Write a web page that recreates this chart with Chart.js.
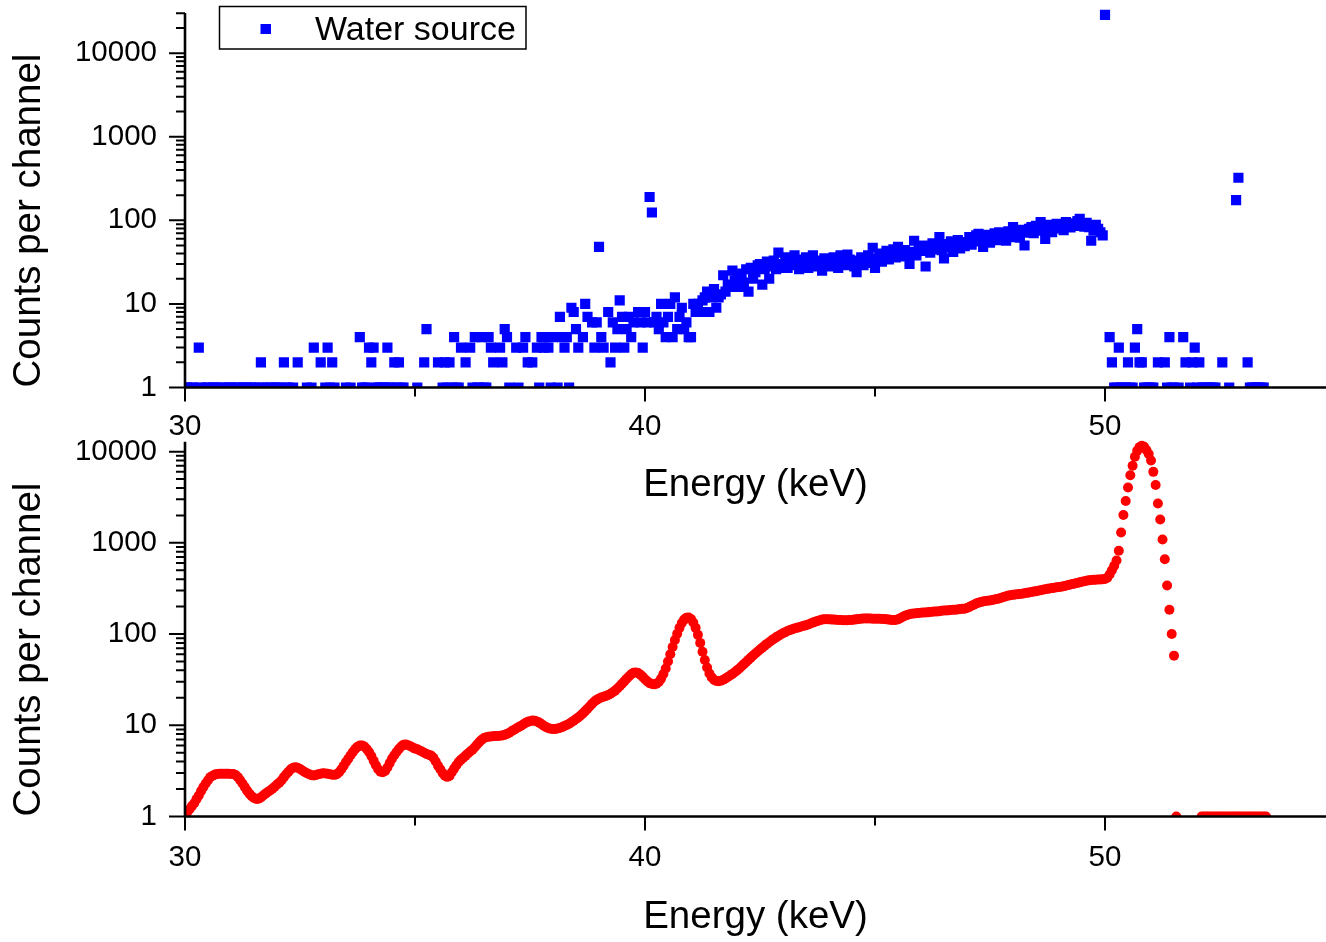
<!DOCTYPE html>
<html>
<head>
<meta charset="utf-8">
<title>Energy spectra</title>
<script src="https://cdn.jsdelivr.net/npm/chart.js@4.4.0/dist/chart.umd.min.js"></script>
<style>
  html, body { margin: 0; padding: 0; background: #ffffff; }
  #wrap { position: relative; width: 1326px; height: 942px; overflow: hidden; }
  canvas { position: absolute; left: 0; }
  #lower { top: 420px; }
  #upper { top: 0; }
</style>
</head>
<body>
<div id="wrap">
  <canvas id="lower" width="1326" height="522"></canvas>
  <canvas id="upper" width="1326" height="510"></canvas>
</div>
<script>
// Channel calibration shared by both spectra (keV)
const channelStart = 30.0;
const channelWidth = 0.05;

// Measured water-source spectrum, counts per channel, one row per keV (30.00 ... 30.95, 31.00 ...)
const waterCounts = [
  1,1,0,1,1,0,3,1,0,1,1,0,1,1,1,0,1,0,1,1,            // 30
  1,0,1,1,0,1,1,1,0,1,1,0,1,2,1,0,1,1,0,1,            // 31
  1,1,0,2,1,1,0,1,0,2,0,0,0,1,0,1,3,0,0,2,            // 32
  0,1,3,1,2,1,0,0,0,0,1,0,1,0,0,0,4,1,1,1,            // 33
  3,2,3,1,1,1,1,1,3,1,1,2,1,2,1,1,0,0,0,0,            // 34
  0,1,0,0,2,5,0,0,0,0,2,0,1,2,1,2,1,4,1,1,            // 35
  3,0,2,0,3,1,4,1,1,4,1,1,4,3,2,0,0,3,2,5,            // 36
  4,1,0,0,3,1,0,3,4,2,0,2,0,3,1,4,3,4,3,1,            // 37
  4,0,1,7,4,3,4,1,9,8,5,3,0,4,10,7,0,6,3,6,           // 38
  48,4,3,0,8,2,6,3,5,11,7,3,5,7,4,6,0,8,6,3,          // 39
  8,6,190,124,6,7,5,10,6,4,7,10,4,12,5,7,9,5,6,4,     // 40
  4,10,8,10,8,11,12,14,8,12,15,9,12,13,22,14,17,16,25,19,   // 41
  22,16,23,18,26,14,27,20,24,29,30,17,26,32,20,28,33,26,41,27, // 42
  30,36,27,33,29,38,31,26,34,29,36,27,32,38,28,33,30,25,35,30, // 43
  33,28,36,31,27,38,32,29,39,34,30,28,24,33,36,29,34,38,31,47, // 44
  27,35,40,32,37,43,34,39,45,36,48,41,37,44,39,30,42,57,38,46, // 45
  43,50,28,46,41,53,45,49,63,44,35,52,47,56,42,50,58,46,53,49, // 46
  55,63,51,58,66,69,56,48,61,67,54,62,70,58,72,60,66,57,74,63, // 47
  83,68,74,62,77,50,71,79,83,70,86,75,95,81,60,78,88,72,84,91, // 48
  80,87,76,95,89,82,92,86,98,104,90,84,93,83,57,75,88,79,72,66, // 49
  28700,0,4,2,1,1,3,1,1,1,2,1,1,3,5,2,2,1,1,1,        // 50
  1,1,0,2,0,0,2,1,4,1,1,0,1,0,4,2,0,1,2,3,            // 51
  1,2,1,1,1,1,1,1,1,0,0,2,0,0,1,0,0,174,323,0,        // 52
  0,0,2,1,1,1,1,1,1,1                                 // 53
];

// Calculated spectrum, counts per channel on the same channel grid
const calculatedCounts = [
  1.05,1.12,1.2,1.3,1.4,1.55,1.7,1.9,2.1,2.3,2.5,2.7,2.8,2.88,2.92,2.94,2.95,2.95,2.94,2.94,          // 30
  2.93,2.92,2.85,2.7,2.5,2.3,2.1,1.92,1.78,1.67,1.6,1.56,1.57,1.62,1.7,1.78,1.86,1.93,2.02,2.12,       // 31
  2.24,2.35,2.5,2.7,2.9,3.1,3.3,3.42,3.47,3.42,3.32,3.2,3.08,2.98,2.9,2.84,2.82,2.85,2.9,2.95,         // 32
  2.98,2.97,2.94,2.9,2.87,2.86,2.9,3.05,3.3,3.6,3.95,4.3,4.7,5.1,5.5,5.8,6.0,6.0,5.85,5.5,             // 33
  5.1,4.6,4.1,3.65,3.3,3.1,3.05,3.15,3.45,3.85,4.3,4.7,5.1,5.5,5.85,6.1,6.15,6.05,5.9,5.7,             // 34
  5.55,5.45,5.3,5.15,5.0,4.85,4.75,4.65,4.4,4.0,3.6,3.3,3.0,2.8,2.72,2.78,3.05,3.35,3.65,3.95,         // 35
  4.2,4.4,4.65,4.9,5.15,5.4,5.75,6.15,6.55,6.95,7.25,7.4,7.5,7.55,7.6,7.62,7.65,7.7,7.75,7.85,         // 36
  8.05,8.3,8.6,8.9,9.2,9.5,9.85,10.2,10.6,10.9,11.1,11.25,11.2,11.0,10.7,10.3,9.9,9.55,9.3,9.15,       // 37
  9.1,9.1,9.2,9.35,9.55,9.8,10.1,10.4,10.8,11.2,11.7,12.2,12.8,13.5,14.3,15.2,16.2,17.2,18.2,19.0,     // 38
  19.7,20.2,20.6,21.0,21.5,22.2,23.0,24.0,25.3,26.8,28.5,30.3,32.3,34.3,36.2,37.6,38.0,37.4,35.9,34.0, // 39
  32.0,30.3,29.0,28.3,28.1,28.5,29.8,32.5,36.5,42,50,60,72,86,101,117,132,144,151,152,                 // 40
  146,134,117,98,80,64,52,43,37,33.5,31.5,30.6,30.4,30.8,31.5,32.6,33.9,35.2,36.6,38.2,                // 41
  40.0,42.0,44.3,46.8,49.5,52.3,55.2,58.2,61.3,64.5,67.7,71,74.5,78,81.5,85,88.5,92,95.5,99,           // 42
  102,105,108,110.5,113,115,117,119,121,123,125,127.5,130.5,133.5,136.5,139.5,142,144,145.5,145.5,     // 43
  145,144.5,144,143.5,143,142.5,142,142,142,142.5,143,144,145,146,147,148,148.5,148.5,148,147.5,       // 44
  147,147,147,146.5,146,145,144,143,142.5,143,145,149,154,159,162,165,167,168,169,170,                 // 45
  171,172,172,173,175,176,177,177,178,180,181,181,182,184,185,185,186,188,189,190,                     // 46
  193,198,204,210,216,221,225,228,230,232,234,236,239,242,246,250,255,260,264,267,                     // 47
  269,271,273,275,277,280,283,286,289,292,295,298,302,306,310,313,316,319,322,325,                     // 48
  328,331,335,339,344,349,354,359,364,369,374,379,384,388,391,393,395,396,397,399,                     // 49
  402,415,450,500,560,640,820,1300,2020,2870,4050,5500,7000,8800,10200,11200,11600,11300,10400,9400,   // 50
  8000,6000,4300,2700,1800,1090,660,340,185,100,58,1,0,0,0,0,0,0,0,0,                                  // 51
  0,0,1,1,1,1,1,1,1,1,1,1,1,1,1,1,1,1,1,1,                                                             // 52
  1,1,1,1,1,1,1,1,1,1,1                                                                                // 53
];

// Axis ticks and ranges
const xTickValues = [30, 40, 50];
const xMinorTickValues = [35, 45];
const yTickValues = [1, 10, 100, 1000, 10000];
const xRange = [30, 54.804];
const upperYRange = [1, 30200];
const lowerYRange = [1, 12850];

const FONT = "'Liberation Sans', Arial, Helvetica, sans-serif";
Chart.defaults.color = '#000000';
Chart.defaults.font.family = FONT;

// Zero-count channels cannot be placed on a log axis, so they are left out
function toPoints(counts) {
  const pts = [];
  counts.forEach((c, i) => {
    if (c > 0) pts.push({ x: channelStart + i * channelWidth, y: c });
  });
  return pts;
}

// Axis lines with major and minor tick marks pointing outwards
const axisFrame = {
  id: 'axisFrame',
  afterDatasetsDraw(chart) {
    const { ctx, chartArea: a, scales: { x, y } } = chart;
    ctx.save();
    ctx.strokeStyle = '#000000';
    ctx.lineWidth = 2.6;
    ctx.beginPath();
    ctx.moveTo(a.left, a.top);
    ctx.lineTo(a.left, a.bottom);
    ctx.moveTo(a.left - 1.3, a.bottom);
    ctx.lineTo(a.right, a.bottom);
    ctx.stroke();

    ctx.lineWidth = 2;
    ctx.beginPath();
    xTickValues.forEach(v => {
      const px = x.getPixelForValue(v);
      ctx.moveTo(px, a.bottom);
      ctx.lineTo(px, a.bottom + 14);
    });
    xMinorTickValues.forEach(v => {
      const px = x.getPixelForValue(v);
      ctx.moveTo(px, a.bottom);
      ctx.lineTo(px, a.bottom + 9);
    });
    yTickValues.forEach(d => {
      for (let m = 1; m <= 9; m++) {
        const v = d * m;
        if (v > y.max) break;
        const py = y.getPixelForValue(v);
        ctx.moveTo(a.left, py);
        ctx.lineTo(a.left - (m === 1 ? 16 : 9), py);
      }
    });
    ctx.stroke();
    ctx.restore();
  }
};

// Boxed legend in the upper left corner of the plot
const boxedLegend = {
  id: 'boxedLegend',
  afterDraw(chart) {
    const { ctx } = chart;
    const ds = chart.data.datasets[0];
    ctx.save();
    ctx.fillStyle = '#ffffff';
    ctx.fillRect(219.5, 6.5, 306.5, 42.5);
    ctx.strokeStyle = '#000000';
    ctx.lineWidth = 1.5;
    ctx.strokeRect(219.5, 6.5, 306.5, 42.5);
    ctx.fillStyle = ds.backgroundColor;
    ctx.fillRect(260.5, 24, 10.5, 10);
    ctx.fillStyle = '#000000';
    ctx.font = '34px ' + FONT;
    ctx.textBaseline = 'alphabetic';
    ctx.textAlign = 'left';
    ctx.fillText(ds.label, 315, 40);
    ctx.restore();
  }
};

function spectrumOptions(cfg) {
  return {
    responsive: false,
    animation: false,
    events: [],
    layout: { autoPadding: false, padding: { left: 0, right: 0, top: cfg.top, bottom: 0 } },
    plugins: { legend: { display: false }, tooltip: { enabled: false } },
    scales: {
      x: {
        type: 'linear',
        position: 'bottom',
        min: xRange[0],
        max: xRange[1],
        grid: { display: false, drawTicks: false },
        border: { display: false },
        afterBuildTicks: s => { s.ticks = xTickValues.map(v => ({ value: v })); },
        afterFit: s => {
          s.height = cfg.xAxisHeight;
          s.paddingLeft = 0; s.paddingRight = 0;
        },
        ticks: {
          autoSkip: false, maxRotation: 0, padding: cfg.xLabelPad,
          font: { size: 29.5 },
          callback: v => String(v)
        },
        title: {
          display: true, text: 'Energy (keV)',
          font: { size: 38.5 },
          padding: { top: 0, bottom: cfg.xTitlePad }
        }
      },
      y: {
        type: 'logarithmic',
        position: 'left',
        min: cfg.yRange[0],
        max: cfg.yRange[1],
        grid: { display: false, drawTicks: false },
        border: { display: false },
        afterBuildTicks: s => { s.ticks = yTickValues.map(v => ({ value: v })); },
        afterFit: s => {
          s.width = 185;
          s.paddingTop = 0; s.paddingBottom = 0;
        },
        ticks: {
          autoSkip: false, padding: 28,
          font: { size: 29.5 },
          callback: v => String(v)
        },
        title: {
          display: true, text: 'Counts per channel', align: 'start',
          font: { size: 38.5 },
          padding: { top: 6.3, bottom: 0 }
        }
      }
    }
  };
}

// Lower panel: calculated spectrum
new Chart(document.getElementById('lower'), {
  type: 'scatter',
  data: {
    datasets: [{
      label: 'Calculated spectrum',
      data: toPoints(calculatedCounts),
      pointStyle: 'circle',
      pointRadius: 5,
      pointBorderWidth: 0,
      backgroundColor: '#ff0000',
      borderColor: '#ff0000',
      clip: { left: 0, top: 8, right: 0, bottom: 0 }
    }]
  },
  options: spectrumOptions({ top: 21.7, xAxisHeight: 125.5, xLabelPad: 23.8, xTitlePad: 1.2, yRange: lowerYRange }),
  plugins: [axisFrame]
});

// Upper panel: measured water-source spectrum
new Chart(document.getElementById('upper'), {
  type: 'scatter',
  data: {
    datasets: [{
      label: 'Water source',
      data: toPoints(waterCounts),
      pointStyle: 'rect',
      pointRadius: 7.2,
      pointBorderWidth: 0,
      backgroundColor: '#0000ff',
      borderColor: '#0000ff',
      clip: { left: 0, top: 8, right: 0, bottom: 0 }
    }]
  },
  options: spectrumOptions({ top: 13, xAxisHeight: 122.5, xLabelPad: 21.8, xTitlePad: 1.2, yRange: upperYRange }),
  plugins: [axisFrame, boxedLegend]
});
</script>
</body>
</html>
